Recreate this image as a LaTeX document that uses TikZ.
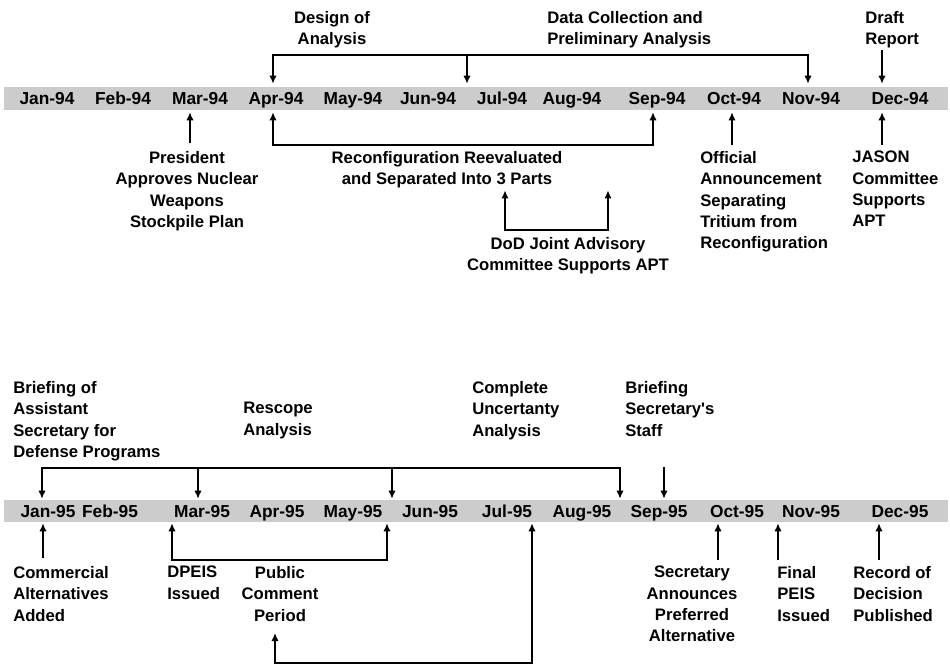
\documentclass[tikz,border=0pt]{standalone}
\usepackage{fontspec}
\newfontfamily\chartfont{Liberation Sans}
\usetikzlibrary{arrows.meta, positioning}

\begin{document}
\begin{tikzpicture}[
    x=0.75pt, y=-0.75pt,
    month/.style={font=\chartfont\bfseries\fontsize{13}{15}\selectfont, text height=9.3pt, text depth=0pt, inner sep=0pt},
    topmonth/.style={month, minimum height=21pt},
    lowmonth/.style={month, minimum height=18pt},
    note/.style={font=\chartfont\bfseries\fontsize{12.5}{16}\selectfont, inner sep=1.5pt},
    band/.style={fill=black!20},
    arrow/.style={-{Latex[length=6pt,width=5.5pt]}, line width=1.1pt},
    twoway/.style={{Latex[length=6pt,width=5.5pt]}-{Latex[length=6pt,width=5.5pt]}, line width=1.1pt},
    line/.style={line width=1.1pt}
]
\useasboundingbox (0,0) rectangle (950,669);

% 1994 time band
\fill[band] (4,87) rectangle (948,110);
\node[topmonth] (jan94) at (47,98) {Jan-94};
\node[topmonth] (feb94) at (123,98) {Feb-94};
\node[topmonth] (mar94) at (200,98) {Mar-94};
\node[topmonth] (apr94) at (276,98) {Apr-94};
\node[topmonth] (may94) at (353,98) {May-94};
\node[topmonth] (jun94) at (428,98) {Jun-94};
\node[topmonth] (jul94) at (502,98) {Jul-94};
\node[topmonth] (aug94) at (572,98) {Aug-94};
\node[topmonth] (sep94) at (657,98) {Sep-94};
\node[topmonth] (oct94) at (734,98) {Oct-94};
\node[topmonth] (nov94) at (811,98) {Nov-94};
\node[topmonth] (dec94) at (900,98) {Dec-94};

% 1994 events above the band
\node[note, align=center, anchor=north] (design) at (332,9) {Design of\\Analysis};
\node[note, align=left, anchor=north west] (datacoll) at (545,9) {Data Collection and\\Preliminary Analysis};
\node[note, align=left, anchor=north west] (draft) at (863,9) {Draft\\Report};

\coordinate (dsgL) at (273,55);
\coordinate (dsgM) at (467,55);
\coordinate (dsgR) at (808,55);
\draw[twoway] (apr94.north -| dsgL) -- (dsgL) -- (dsgR) -- (nov94.north -| dsgR);
\draw[arrow] (dsgM) -- (dsgM |- jun94.north);
\coordinate (draftA) at (882,50);
\draw[arrow] (draftA) -- (draftA |- dec94.north);

% 1994 events below the band
\node[note, align=center, anchor=north] (president) at (187,149) {President\\Approves Nuclear\\Weapons\\Stockpile Plan};
\coordinate (presA) at (190,143);
\draw[arrow] (presA) -- (presA |- mar94.south);

\node[note, align=center, anchor=north] (reconfig) at (447,149) {Reconfiguration Reevaluated\\and Separated Into 3 Parts};
\coordinate (rcfL) at (273,145);
\coordinate (rcfR) at (653,145);
\draw[twoway] (apr94.south -| rcfL) -- (rcfL) -- (rcfR) -- (sep94.south -| rcfR);

\node[note, align=center, anchor=north] (dod) at (568,235) {DoD Joint Advisory\\Committee Supports APT};
\coordinate (dodL) at (505,230);
\coordinate (dodR) at (608,230);
\draw[twoway] (reconfig.south -| dodL) -- (dodL) -- (dodR) -- (reconfig.south -| dodR);

\node[note, align=left, anchor=north west] (official) at (698,149) {Official\\Announcement\\Separating\\Tritium from\\Reconfiguration};
\coordinate (offA) at (732,145);
\draw[arrow] (offA) -- (offA |- oct94.south);

\node[note, align=left, anchor=north west] (jason) at (850,149) {JASON\\Committee\\Supports\\APT};
\coordinate (jasA) at (882,145);
\draw[arrow] (jasA) -- (jasA |- dec94.south);

% 1995 time band
\fill[band] (4,500) rectangle (948,522);
\node[lowmonth] (jan95) at (48,511) {Jan-95};
\node[lowmonth] (feb95) at (110,511) {Feb-95};
\node[lowmonth] (mar95) at (202,511) {Mar-95};
\node[lowmonth] (apr95) at (277,511) {Apr-95};
\node[lowmonth] (may95) at (353,511) {May-95};
\node[lowmonth] (jun95) at (430,511) {Jun-95};
\node[lowmonth] (jul95) at (507,511) {Jul-95};
\node[lowmonth] (aug95) at (582,511) {Aug-95};
\node[lowmonth] (sep95) at (659,511) {Sep-95};
\node[lowmonth] (oct95) at (737,511) {Oct-95};
\node[lowmonth] (nov95) at (811,511) {Nov-95};
\node[lowmonth] (dec95) at (900,511) {Dec-95};

% 1995 events above the band
\node[note, align=left, anchor=north west] (briefing) at (11,379) {Briefing of\\Assistant\\Secretary for\\Defense Programs};
\node[note, align=left, anchor=north west] (rescope) at (241,400) {Rescope\\Analysis};
\node[note, align=left, anchor=north west] (uncert) at (470,379) {Complete\\Uncertanty\\Analysis};
\node[note, align=left, anchor=north west] (staff) at (623,379) {Briefing\\Secretary's\\Staff};

\coordinate (brfL) at (42,468);
\coordinate (brfM) at (198,468);
\coordinate (brfN) at (392,468);
\coordinate (brfR) at (620,468);
\draw[twoway] (jan95.north -| brfL) -- (brfL) -- (brfR) -- (aug95.north -| brfR);
\draw[arrow] (brfM) -- (brfM |- mar95.north);
\draw[arrow] (brfN) -- (brfN |- may95.north);
\coordinate (stfA) at (664,467);
\draw[arrow] (stfA) -- (stfA |- sep95.north);

% 1995 events below the band
\node[note, align=left, anchor=north west] (commercial) at (11,564) {Commercial\\Alternatives\\Added};
\coordinate (comA) at (43,558);
\draw[arrow] (comA) -- (comA |- jan95.south);

\node[note, align=left, anchor=north west] (dpeis) at (165,564) {DPEIS\\Issued};
\coordinate (dpL) at (172,560);
\coordinate (dpR) at (387,560);
\draw[twoway] (mar95.south -| dpL) -- (dpL) -- (dpR) -- (may95.south -| dpR);

\node[note, align=center, anchor=north] (public) at (280,564) {Public\\Comment\\Period};
\coordinate (pubA) at (275,633);
\coordinate (pubB) at (275,663);
\coordinate (pubC) at (532,663);
\draw[twoway] (pubA) -- (pubB) -- (pubC) -- (jul95.south -| pubC);

\node[note, align=center, anchor=north] (announce) at (692,564) {Secretary\\Announces\\Preferred\\Alternative};
\coordinate (annA) at (718,560);
\draw[arrow] (annA) -- (annA |- oct95.south);

\node[note, align=left, anchor=north west] (final) at (775,564) {Final\\PEIS\\Issued};
\coordinate (finA) at (778,560);
\draw[arrow] (finA) -- (finA |- nov95.south);

\node[note, align=left, anchor=north west] (record) at (851,564) {Record of\\Decision\\Published};
\coordinate (recA) at (879,560);
\draw[arrow] (recA) -- (recA |- dec95.south);

\end{tikzpicture}
\end{document}
